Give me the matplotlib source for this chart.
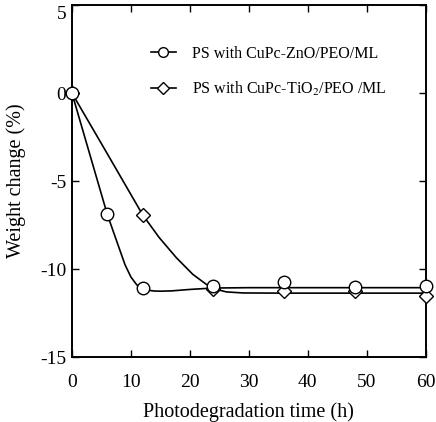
import numpy as np
import matplotlib
matplotlib.use('Agg')
import matplotlib.pyplot as plt
import matplotlib.transforms as mtransforms

plt.rcParams['font.family'] = 'Liberation Serif'
plt.rcParams['mathtext.fontset'] = 'stix'
plt.rcParams['axes.unicode_minus'] = False

# measured points
t_zno = [0, 6, 12, 24, 36, 48, 60]
w_zno = [0, -6.9, -11.07, -10.97, -10.74, -11.0, -10.95]
t_tio2 = [0, 12, 24, 36, 48, 60]
w_tio2 = [0, -6.92, -11.16, -11.26, -11.26, -11.54]

# smoothed fit curves as drawn in the figure
fit_t_zno = [0, 3, 6, 8, 9, 10, 11, 12, 13, 14, 15, 17, 20, 24, 30, 40, 60]
fit_w_zno = [0, -3.45, -6.9, -8.8, -9.75, -10.45, -10.9, -11.12, -11.21, -11.25,
             -11.26, -11.24, -11.16, -11.08, -11.06, -11.06, -11.06]
fit_t_tio2 = [0, 6, 12, 14.8, 17.7, 20.5, 22.8, 23.9, 26.2, 29, 36, 48, 60]
fit_w_tio2 = [0, -3.45, -6.92, -8.21, -9.35, -10.3, -10.87, -11.1, -11.3, -11.36,
              -11.37, -11.37, -11.37]

labels = ['PS with CuPc-ZnO/PEO/ML', 'PS with CuPc-TiO$_2$/PEO /ML']

fig = plt.figure(figsize=(4.36, 4.22), dpi=100)
ax = fig.add_axes([0.165, 0.154, 0.811, 0.834])

ax.plot(fit_t_zno, fit_w_zno, color='black', lw=1.2, zorder=2)
ax.plot(fit_t_tio2, fit_w_tio2, color='black', lw=1.2, zorder=2)
ax.plot(t_tio2, w_tio2, linestyle='none', marker='D', ms=7, mfc='white', mec='black',
        mew=1.0, zorder=3, clip_on=False)
ax.plot(t_zno, w_zno, linestyle='none', marker='o', ms=9, mfc='white', mec='black',
        mew=1.0, zorder=4, clip_on=False)

# legend handles
h1, = ax.plot([], [], color='black', lw=1.2, marker='o', ms=7, mfc='white', mec='black')
h2, = ax.plot([], [], color='black', lw=1.2, marker='D', ms=6, mfc='white', mec='black')
ax.legend([h1, h2], labels, loc='upper left', bbox_to_anchor=(0.2, 0.907), frameon=False,
          fontsize=11.5, handlelength=1.6, handletextpad=1.0, labelspacing=1.12,
          borderpad=0)

ax.set_xlim(0, 60)
ax.set_ylim(-15, 5)
ax.set_xticks([0, 10, 20, 30, 40, 50, 60])
ax.set_yticks([-15, -10, -5, 0, 5])
ax.tick_params(direction='in', length=5, width=1.0, top=True, right=True,
               labelsize=14)
ax.tick_params(axis='x', pad=12)
ax.tick_params(axis='y', pad=4)
for s in ax.spines.values():
    s.set_linewidth(1.4)

# top y label sits a little lower than its tick, as in the original
top_lbl = ax.get_yticklabels()[-1]
top_lbl.set_transform(top_lbl.get_transform() +
                      mtransforms.ScaledTranslation(0, -5 / 72, fig.dpi_scale_trans))

ax.set_xlabel('Photodegradation time (h)', fontsize=14.5, labelpad=8)
ax.set_ylabel('Weight change (%)', fontsize=14.5, labelpad=10)

fig.savefig('out.png', dpi=100)
